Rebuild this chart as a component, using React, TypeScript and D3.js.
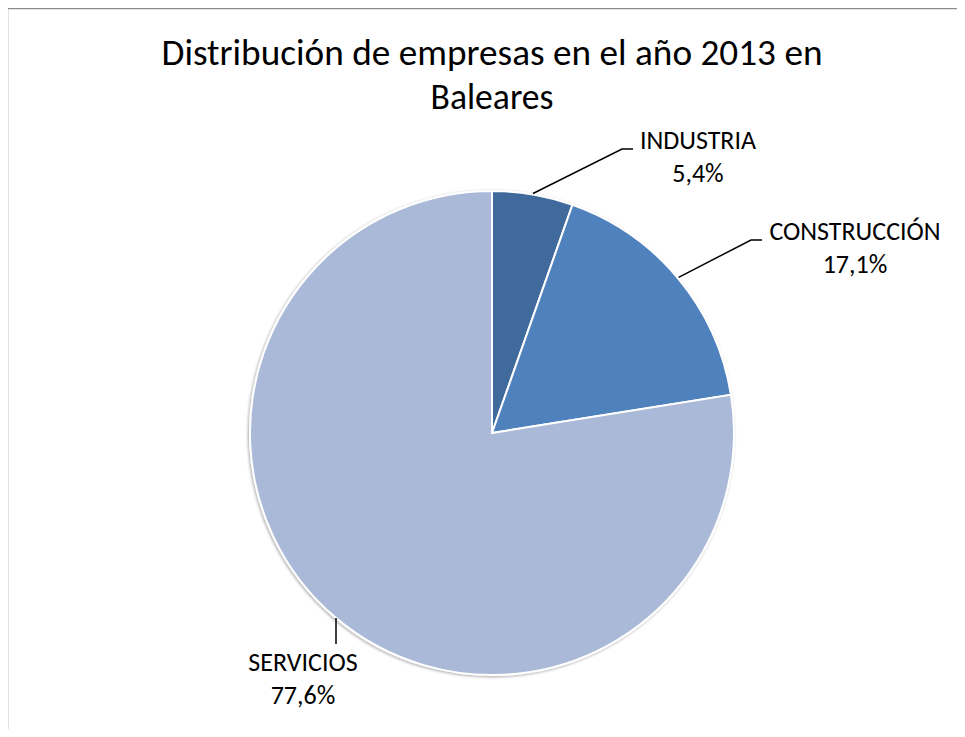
import React from "react";
import * as d3 from "d3";

const categories = ["INDUSTRIA", "CONSTRUCCIÓN", "SERVICIOS"];
const shares = [5.4, 17.1, 77.6];
const labelTexts = ["5,4%", "17,1%", "77,6%"];
const sliceColors = ["#3F6A9C", "#4F81BD", "#AAB9D7"];
const titleLines = ["Distribución de empresas en el año 2013 en", "Baleares"];

const W = 965;
const H = 737;
const cx = 492;
const cy = 433;
const R = 242;
const FONT = "Calibri, Carlito, 'Open Sans', 'Noto Sans', sans-serif";

// label placement (layout only)
const labelLayout = [
  { lx: 698, ly: 149, anchorDir: "right" },
  { lx: 855, ly: 240, anchorDir: "right" },
  { lx: 303, ly: 671, anchorDir: "up" },
];
const titleWidths = [661, 123];

export default function App() {
  const pie = d3
    .pie<number>()
    .sort(null)
    .value((d) => d)
    .startAngle(0)
    .endAngle(2 * Math.PI);
  const arcs = pie(shares);
  const arcGen = d3.arc<d3.PieArcDatum<number>>().innerRadius(0).outerRadius(R);

  return (
    <div style={{ margin: -8 }}>
      <svg width={W} height={H} style={{ display: "block" }}>
        <defs>
          <filter id="sh" x="-10%" y="-10%" width="120%" height="120%">
            <feGaussianBlur in="SourceAlpha" stdDeviation="1.5" />
            <feOffset dx="-1" dy="1" result="b" />
            <feComponentTransfer>
              <feFuncA type="linear" slope="0.35" />
            </feComponentTransfer>
            <feMerge>
              <feMergeNode />
              <feMergeNode in="SourceGraphic" />
            </feMerge>
          </filter>
        </defs>
        <rect x={0} y={0} width={W} height={H} fill="#fff" />
        <line x1={7} y1={8.5} x2={W} y2={8.5} stroke="#8c8c8c" strokeWidth={1.5} />
        <line x1={7.5} y1={8} x2={7.5} y2={H} stroke="#8c8c8c" strokeWidth={1.5} />

        {titleLines.map((t, i) => (
          <text
            key={i}
            x={492}
            y={65 + i * 44}
            textAnchor="middle"
            fontFamily={FONT}
            fontSize={36}
            fill="#000"
            textLength={titleWidths[i]}
            lengthAdjust="spacingAndGlyphs"
          >
            {t}
          </text>
        ))}

        <g transform={`translate(${cx},${cy})`} filter="url(#sh)">
          {arcs.map((a, i) => (
            <path key={i} d={arcGen(a) || ""} fill={sliceColors[i]} stroke="#fff" strokeWidth={2} />
          ))}
        </g>

        {arcs.map((a, i) => {
          const mid = (a.startAngle + a.endAngle) / 2;
          const lay = labelLayout[i];
          let pts: [number, number][];
          if (lay.anchorDir === "right") {
            const sx = cx + Math.sin(mid) * (R + 1);
            const sy = cy - Math.cos(mid) * (R + 1);
            const kneeY = lay.ly;
            const endX = i === 0 ? 633 : 762;
            const kneeX = endX - 11;
            pts = [
              [sx, sy],
              [kneeX, kneeY],
              [endX, kneeY],
            ];
          } else {
            const sx = 336;
            pts = [
              [sx, 618],
              [sx, 644],
            ];
          }
          return (
            <path
              key={"l" + i}
              d={d3.line()(pts) || ""}
              fill="none"
              stroke="#000"
              strokeWidth={1.5}
            />
          );
        })}

        {categories.map((c, i) => {
          const lay = labelLayout[i];
          return (
            <text key={"t" + i} textAnchor="middle" fontFamily={FONT} fontSize={26} fill="#000">
              <tspan x={lay.lx} y={lay.ly}>
                {c}
              </tspan>
              <tspan x={lay.lx} y={lay.ly + 33}>
                {labelTexts[i]}
              </tspan>
            </text>
          );
        })}
      </svg>
    </div>
  );
}
